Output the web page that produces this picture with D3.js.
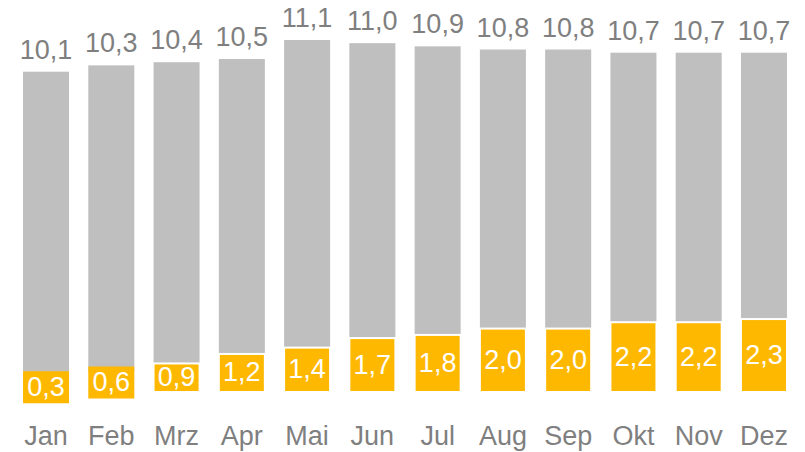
<!DOCTYPE html>
<html><head><meta charset="utf-8">
<script src="https://cdn.jsdelivr.net/npm/d3@7"></script>
<style>
html,body{margin:0;padding:0;background:#fff;}
text{font-family:"Liberation Sans",Arial,sans-serif;}
</style></head>
<body>
<svg id="chart" width="805" height="452"></svg>
<script>
const months = ["Jan","Feb","Mrz","Apr","Mai","Jun","Jul","Aug","Sep","Okt","Nov","Dez"];
const totalValues = [10.1,10.3,10.4,10.5,11.1,11.0,10.9,10.8,10.8,10.7,10.7,10.7];
const partValues = [0.3,0.6,0.9,1.2,1.4,1.7,1.8,2.0,2.0,2.2,2.2,2.3];

const svg = d3.select("#chart");
const fmt = v => d3.format(".1f")(v).replace(".", ",");
const FS = 27;

const x = d3.scaleBand().domain(months).range([13.4, 796.6]).paddingInner(0.295).paddingOuter(0.1475);
const y = d3.scaleLinear().domain([0, 11.1]).range([392, 40]);

const gray = "#BFBFBF", yellow = "#FFB800", textGray = "#7F7F7F";

// total bars
svg.append("g").selectAll("rect").data(months).join("rect")
  .attr("x", d => x(d)).attr("width", x.bandwidth())
  .attr("y", (d,i) => y(totalValues[i]))
  .attr("height", (d,i) => y(0) - y(totalValues[i]))
  .attr("fill", gray);

// part bars
svg.append("g").selectAll("rect").data(months).join("rect")
  .attr("x", d => x(d)).attr("width", x.bandwidth())
  .attr("y", (d,i) => y(partValues[i]))
  .attr("height", (d,i) => y(0) - y(partValues[i]))
  .attr("fill", yellow).attr("stroke", "#fff").attr("stroke-width", 2);

// label boxes for short bars
const boxH = 32;
svg.append("g").selectAll("rect").data(months.filter((d,i) => y(0) - y(partValues[i]) < 24)).join("rect")
  .attr("x", d => x(d)).attr("width", x.bandwidth())
  .attr("y", d => { const i = months.indexOf(d); return (y(0) + y(partValues[i]))/2 - boxH/2; })
  .attr("height", boxH)
  .attr("fill", yellow);

// part labels
svg.append("g").selectAll("text").data(months).join("text")
  .attr("x", d => x(d) + x.bandwidth()/2)
  .attr("y", (d,i) => (y(0) + y(partValues[i]))/2 + 8.5)
  .attr("text-anchor", "middle")
  .attr("font-size", FS).attr("fill", "#fff")
  .text((d,i) => fmt(partValues[i]));

// total labels
svg.append("g").selectAll("text").data(months).join("text")
  .attr("x", d => x(d) + x.bandwidth()/2)
  .attr("y", (d,i) => y(totalValues[i]) - 13)
  .attr("text-anchor", "middle")
  .attr("font-size", FS).attr("fill", textGray)
  .text((d,i) => fmt(totalValues[i]));

// x axis
const ax = svg.append("g").attr("transform", "translate(0,392)")
  .call(d3.axisBottom(x).tickSize(0).tickPadding(34));
ax.select(".domain").remove();
ax.selectAll("text").attr("font-size", FS).attr("fill", textGray)
  .attr("font-family", "'Liberation Sans',Arial,sans-serif");
</script>
</body></html>
